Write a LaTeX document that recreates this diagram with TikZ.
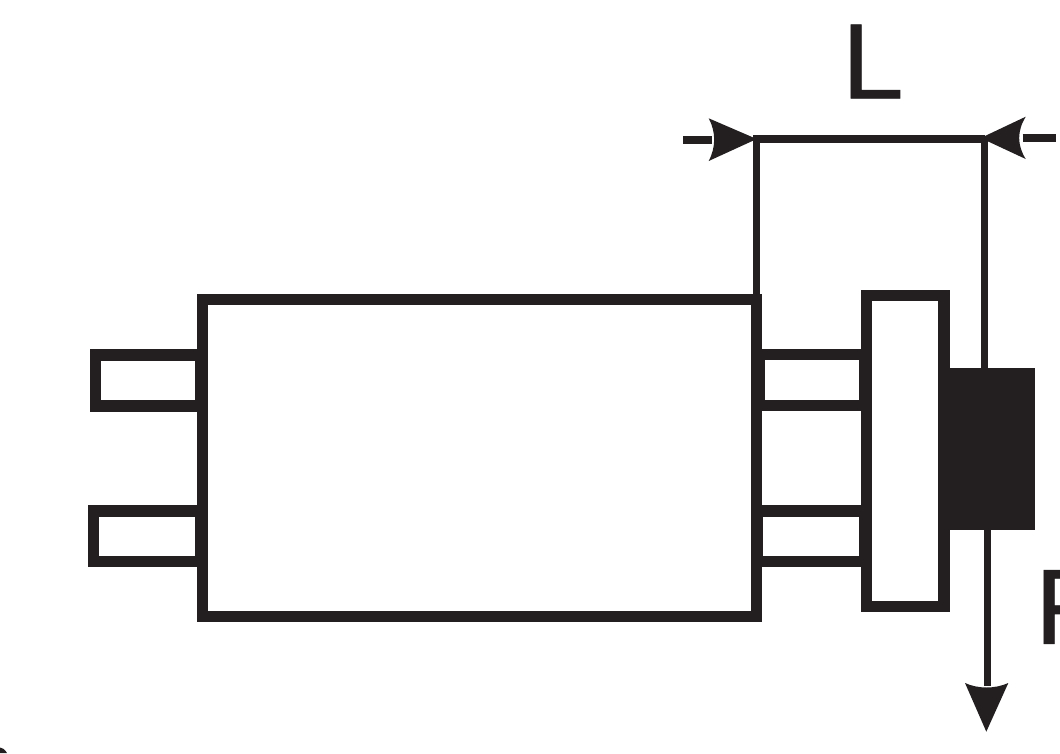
\documentclass[tikz,border=0pt]{standalone}
\usepackage{fontspec}
\setmainfont[FakeBold=0.7,FakeStretch=1.04]{Liberation Sans}
\definecolor{ink}{HTML}{231F20}
\tikzset{
  outline/.style={draw=ink,line width=11.4pt,miter limit=10},
  thinline/.style={draw=ink,line width=7.6pt},
  solid ink/.style={fill=ink,draw=none},
  lettering/.style={text=ink,inner sep=0pt,anchor=base west,font=\fontsize{107}{107}\selectfont},
  boxnode/.style={inner sep=0pt,minimum width=0pt,minimum height=0pt}
}
\begin{document}
\begin{tikzpicture}[x=1pt,y=-1pt]
\useasboundingbox (0,0) rectangle (1060,753);
\clip (0,0) rectangle (1060,753);
\fill[white] (0,0) rectangle (1060,753);
% pins
\draw[outline] (95.7,354.8) rectangle (201,405.9);
\draw[outline] (93.5,510.8) rectangle (201,561.7);
\draw[outline] (759.6,354.7) rectangle (864.7,405.5);
\draw[outline] (757.6,510.8) rectangle (864.7,561.7);
% body and flange
\draw[outline] (202.7,299.7) rectangle (756.7,616.2);
\draw[outline] (866.5,295.7) rectangle (943.8,606.5);
% block on the flange
\fill[solid ink] (938.3,368.3) rectangle (1034.7,530);
% named anchors for the connectors
\coordinate (extL) at (756.5,293.5);
\coordinate (dimL) at (756.5,139.2);
\coordinate (blockT) at (984.5,369);
\coordinate (dimR) at (984.5,139.2);
\coordinate (blockB) at (987.3,529);
\coordinate (forceEnd) at (987.3,686);
\draw[thinline] (extL) -- (dimL);
\draw[thinline] (blockT) -- (dimR);
\draw[thinline] (blockB) -- (forceEnd);
\draw[ink,line width=8pt] ([xshift=-3.5pt]dimL) -- (dimR);
% outer tails of the dimension arrows
\coordinate (tailLa) at (683.3,139.6);
\coordinate (tailLb) at (712,139.6);
\coordinate (tailRa) at (1022.7,137.5);
\coordinate (tailRb) at (1056,137.5);
\draw[ink,line width=8pt] (tailLa) -- (tailLb);
\draw[ink,line width=8pt] (tailRa) -- (tailRb);
% arrowheads
\fill[solid ink] (756.7,139) -- (708.7,118.3) .. controls (716,132) and (716,147) .. (708.7,161) -- cycle;
\fill[solid ink] (980.7,138) -- (1025.7,116.7) .. controls (1017,131) and (1017,145) .. (1025.7,159) -- cycle;
\fill[solid ink] (986.3,731.7) -- (965,683) .. controls (978,689) and (995,689) .. (1008.3,683) -- cycle;
% lettering
\node[lettering] (labelL) at (841.6,98.3) {L};
\node[lettering] (labelF) at (1034.6,643.8) {F};
% fragment in the lower-left corner
\fill[solid ink] (0,753) -- (0,747.5) .. controls (2.5,747.5) and (5,749.5) .. (7,753) -- cycle;
\end{tikzpicture}
\end{document}
